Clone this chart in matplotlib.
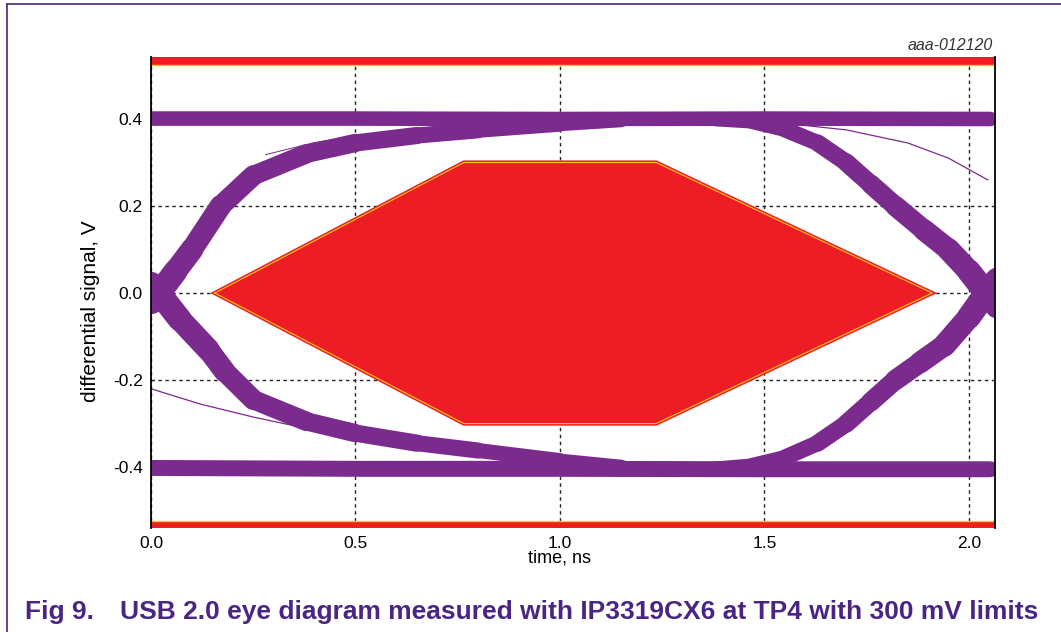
import matplotlib.pyplot as plt
from matplotlib.collections import LineCollection
import numpy as np

plt.rcParams['font.family'] = ['Liberation Sans', 'DejaVu Sans']

# eye mask (hexagon) in ns / V
mask_t = [0.156, 0.765, 1.235, 1.91, 1.235, 0.765, 0.156]
mask_v = [0.0, 0.3, 0.3, 0.0, -0.3, -0.3, 0.0]
limit_v = 0.523   # upper / lower limit bars

# rails
rail_hi_t = [0.0, 0.5, 1.0, 1.5, 2.052]
rail_hi_v = [0.401, 0.401, 0.400, 0.401, 0.400]
rail_lo_t = [0.0, 0.5, 1.0, 1.5, 2.052]
rail_lo_v = [-0.402, -0.404, -0.404, -0.405, -0.405]

# transitions (band centre lines)
up_l_t = [0.0, 0.02, 0.06, 0.1, 0.17, 0.25, 0.38, 0.5, 0.65, 0.8, 1.0, 1.15]
up_l_v = [-0.02, 0.0, 0.05, 0.1, 0.2, 0.27, 0.32, 0.345, 0.362, 0.374, 0.388, 0.397]
lo_l_t = [0.0, 0.02, 0.07, 0.14, 0.18, 0.25, 0.38, 0.5, 0.65, 0.8, 1.0, 1.15]
lo_l_v = [0.02, 0.0, -0.06, -0.13, -0.18, -0.245, -0.295, -0.322, -0.345, -0.362, -0.385, -0.399]
up_r_t = [1.38, 1.47, 1.55, 1.63, 1.7, 1.76, 1.82, 1.89, 1.95, 2.0, 2.042, 2.07]
up_r_v = [0.399, 0.394, 0.376, 0.345, 0.3, 0.25, 0.2, 0.145, 0.1, 0.05, 0.0, -0.03]
lo_r_t = [1.38, 1.47, 1.55, 1.63, 1.7, 1.76, 1.82, 1.88, 1.94, 2.0, 2.042, 2.07]
lo_r_v = [-0.403, -0.396, -0.378, -0.345, -0.3, -0.25, -0.2, -0.16, -0.12, -0.055, 0.0, 0.03]

# stray thin traces
thin_a_t = [1.55, 1.7, 1.85, 1.95, 2.046]
thin_a_v = [0.39, 0.375, 0.345, 0.31, 0.26]
thin_b_t = [0.0, 0.12, 0.25, 0.4, 0.55]
thin_b_v = [-0.22, -0.255, -0.285, -0.315, -0.34]
thin_c_t = [0.28, 0.4, 0.55, 0.7, 0.85]
thin_c_v = [0.318, 0.346, 0.368, 0.381, 0.39]

xticks = [0.0, 0.5, 1.0, 1.5, 2.0]
yticks = [-0.4, -0.2, 0.0, 0.2, 0.4]

purple = '#7B2A8D'
red = '#EE1C25'
yellow = '#F2C81A'
frame = '#4A2582'

fig = plt.figure(figsize=(10.61, 6.32), dpi=100)
ax = fig.add_axes([151/1061, 1-528/632, 844/1061, 471/632])
ax.set_xlim(0, 2.0636)
ax.set_ylim(-0.540, 0.5425)

ax.grid(True, color='#222222', linestyle=(0, (2.5, 2.5)), linewidth=1.0)
ax.set_axisbelow(True)
ax.set_xticks(xticks)
ax.set_yticks(yticks)
ax.set_xticklabels(['%.1f' % t for t in xticks])
ax.set_yticklabels(['%.1f' % v for v in yticks])
ax.tick_params(length=0, labelsize=12.5)
ax.tick_params(axis='x', pad=6)
ax.tick_params(axis='y', pad=6)
for s in ['top', 'bottom']:
    ax.spines[s].set_visible(False)
for s in ['left', 'right']:
    ax.spines[s].set_linewidth(1.3)

# limit bars
ax.axhspan(limit_v, 0.5425, color=red, lw=0)
ax.axhspan(-0.540, -limit_v, color=red, lw=0)
ax.axhline(limit_v, color=yellow, lw=1.0)
ax.axhline(-limit_v, color=yellow, lw=1.0)

# eye traces
ax.plot(rail_hi_t, rail_hi_v, color=purple, lw=10.5, solid_capstyle='round')
ax.plot(rail_lo_t, rail_lo_v, color=purple, lw=11.5, solid_capstyle='round')


def band(t, v, w_start, w_end):
    pts = np.column_stack([t, v])
    segs = np.stack([pts[:-1], pts[1:]], axis=1)
    widths = np.linspace(w_start, w_end, len(segs))
    lc = LineCollection(segs, colors=purple, linewidths=widths, capstyle='round')
    ax.add_collection(lc)


band(up_l_t, up_l_v, 18, 10)
band(lo_l_t, lo_l_v, 18, 10)
band(up_r_t, up_r_v, 10, 18)
band(lo_r_t, lo_r_v, 10, 18)
ax.plot(thin_a_t, thin_a_v, color=purple, lw=0.9)
ax.plot(thin_b_t, thin_b_v, color=purple, lw=0.9)
ax.plot(thin_c_t, thin_c_v, color=purple, lw=0.7)

# mask
ax.fill(mask_t, mask_v, facecolor=red, edgecolor=red, lw=3, zorder=3)
ax.plot(mask_t, mask_v, color=yellow, lw=0.8, zorder=4)

fig.text(90/1061, 1-311/632, 'differential signal, V', rotation=90,
         ha='center', va='center', fontsize=15)
fig.text(560/1061, 1-558/632, 'time, ns', ha='center', va='center', fontsize=13)
fig.text(993/1061, 1-45/632, 'aaa-012120', ha='right', va='center',
         fontsize=11.5, style='italic', color='#333333')

# caption
fig.text(25/1061, 1-612/632, 'Fig 9.', ha='left', va='center', fontsize=19,
         fontweight='bold', color=frame)
fig.text(120/1061, 1-612/632,
         'USB 2.0 eye diagram measured with IP3319CX6 at TP4 with 300 mV limits',
         ha='left', va='center', fontsize=19, fontweight='bold', color=frame)

# document frame (top and left)
fig.add_artist(plt.Line2D([7/1061, 1], [1-4/632, 1-4/632], color=frame, lw=1.2))
fig.add_artist(plt.Line2D([7/1061, 7/1061], [0, 1-4/632], color=frame, lw=1.2))

fig.savefig('out.png', dpi=100)
